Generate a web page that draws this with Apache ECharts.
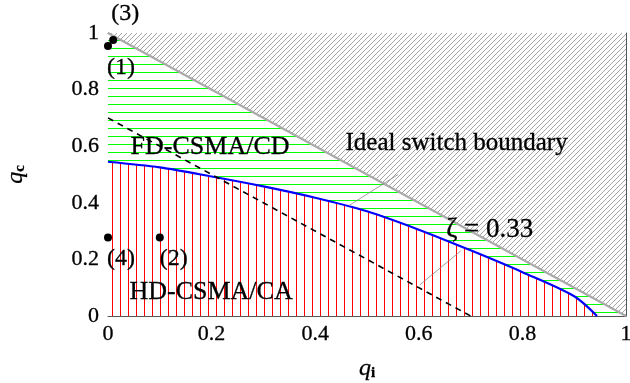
<!DOCTYPE html>
<html>
<head>
<meta charset="utf-8">
<script src="https://cdn.jsdelivr.net/npm/echarts@6/dist/echarts.min.js"></script>
<style>
  html, body { margin: 0; padding: 0; background: #fff; }
  #chart { width: 630px; height: 383px; }
</style>
</head>
<body>
<div id="chart"></div>
<script>
// values
const idealBoundary = [[0, 0.545], [0.1, 0.525], [0.2, 0.493], [0.3, 0.458], [0.4, 0.418],
  [0.5, 0.37], [0.6, 0.305], [0.7, 0.232], [0.8, 0.155], [0.9, 0.07], [0.944, 0]]
const diagonal = [[0, 1], [1, 0]]
const zetaLine = [[0, 0.7], [0.7, 0]]
const pointsData = [
  { name: '(1)', value: [0, 0.954], offset: [13, 22] },
  { name: '(3)', value: [0.01, 0.975], offset: [12, -26] },
  { name: '(4)', value: [0, 0.277], offset: [13, 21] },
  { name: '(2)', value: [0.1, 0.277], offset: [14, 21] }
]
const regionLabels = [
  { name: 'FD-CSMA/CD', value: [0.197, 0.595], size: 26 },
  { name: 'Ideal switch boundary', value: [0.673, 0.61], size: 25 },
  { name: 'HD-CSMA/CA', value: [0.199, 0.085], size: 26 },
  { name: 'ζ = 0.33', value: [0.737, 0.304], size: 27 }
]
const pinLines = [
  [[0.56, 0.5], [0.465, 0.39]],
  [[0.681, 0.23], [0.602, 0.11]]
]
const tickLabels = ['0', '0.2', '0.4', '0.6', '0.8', '1']

// hatch patterns
function makePattern(w, h, bg, draw) {
  const c = document.createElement('canvas')
  c.width = w
  c.height = h
  const ctx = c.getContext('2d')
  if (bg) {
    ctx.fillStyle = bg
    ctx.fillRect(0, 0, w, h)
  }
  draw(ctx)
  return { image: c, repeat: 'repeat' }
}
const grayHatch = makePattern(5, 5, '#fff', ctx => {
  ctx.strokeStyle = '#999'
  ctx.lineWidth = 0.9
  ctx.beginPath()
  ctx.moveTo(-1, 6); ctx.lineTo(6, -1)
  ctx.moveTo(-1, 1); ctx.lineTo(1, -1)
  ctx.moveTo(4, 6); ctx.lineTo(6, 4)
  ctx.stroke()
})
const greenHatch = makePattern(8, 8, '#fff', ctx => {
  ctx.fillStyle = '#00ff00'
  ctx.fillRect(0, 0, 8, 1)
})
const redHatch = makePattern(8, 8, '#fff', ctx => {
  ctx.fillStyle = '#ff0000'
  ctx.fillRect(0, 0, 1, 8)
})

const font = 'Liberation Serif'
// thin outline so the serif text reads as dark as the original
const ink = { color: '#000', textBorderColor: '#000', textBorderWidth: 0.3 }
const fmt = v => tickLabels[Math.round(v * 5)]
const nameRich = {
  q: Object.assign({ fontFamily: font, fontStyle: 'italic', fontSize: 24 }, ink),
  s: Object.assign({ fontFamily: font, fontWeight: 'bold', fontSize: 15, padding: [9, 0, 0, 0] }, ink)
}

const axisCommon = {
  type: 'value',
  min: 0,
  max: 1,
  interval: 0.2,
  axisLine: { show: true, onZero: false, lineStyle: { color: '#555', width: 1 } },
  axisTick: { inside: true, length: 5, lineStyle: { color: '#555' } },
  splitLine: { show: false }
}

const chart = echarts.init(document.getElementById('chart'))
chart.setOption({
  animation: false,
  grid: { left: 108, right: 4, top: 33, bottom: 67, containLabel: false, outerBoundsMode: 'none' },
  xAxis: [
    Object.assign({}, axisCommon, {
      position: 'bottom',
      axisLabel: Object.assign({ fontFamily: font, fontSize: 22, margin: 7, formatter: fmt }, ink),
      name: '{q|q}{s|i}',
      nameLocation: 'middle',
      nameGap: 41,
      nameTextStyle: { rich: nameRich }
    }),
    Object.assign({}, axisCommon, { position: 'top', axisLabel: { show: false } })
  ],
  yAxis: [
    Object.assign({}, axisCommon, {
      position: 'left',
      axisLabel: Object.assign({ fontFamily: font, fontSize: 22, margin: 9, formatter: fmt }, ink),
      name: '{q|q}{s|c}',
      nameLocation: 'middle',
      nameGap: 80,
      nameRotate: 90,
      nameTextStyle: { rich: nameRich }
    }),
    Object.assign({}, axisCommon, { position: 'right', axisLabel: { show: false } })
  ],
  series: [
    {
      // gray hatched region above the diagonal
      type: 'line',
      data: diagonal,
      symbol: 'none',
      z: 1,
      lineStyle: { color: '#aaa', width: 2.2 },
      areaStyle: { origin: 'end', color: grayHatch, opacity: 1 }
    },
    {
      // green FD region (red covers its lower part)
      type: 'line',
      data: diagonal,
      symbol: 'none',
      z: 1,
      lineStyle: { width: 0 },
      areaStyle: { origin: 'start', color: greenHatch, opacity: 1 }
    },
    {
      // red HD region under the ideal switch boundary
      type: 'line',
      data: idealBoundary,
      symbol: 'none',
      smooth: 0.3,
      z: 2,
      lineStyle: { color: '#0000ff', width: 2.2 },
      areaStyle: { origin: 'start', color: redHatch, opacity: 1 }
    },
    {
      type: 'line',
      data: zetaLine,
      symbol: 'none',
      z: 3,
      lineStyle: { color: '#000', width: 1.6, type: [6, 5] }
    },
    {
      // pins
      type: 'lines',
      coordinateSystem: 'cartesian2d',
      z: 3,
      lineStyle: { color: '#888', width: 0.8, opacity: 1 },
      data: pinLines.map(p => ({ coords: p }))
    },
    {
      type: 'scatter',
      symbolSize: 8,
      z: 4,
      itemStyle: { color: '#000', opacity: 1 },
      data: pointsData.map(d => ({
        name: d.name,
        value: d.value,
        label: Object.assign({
          show: true,
          formatter: '{b}',
          fontFamily: font,
          fontSize: 24,
          position: 'inside',
          offset: d.offset
        }, ink)
      }))
    },
    {
      type: 'scatter',
      symbolSize: 0,
      z: 5,
      silent: true,
      itemStyle: { opacity: 1 },
      data: regionLabels.map(d => ({
        name: d.name,
        value: d.value,
        label: Object.assign({
          show: true,
          formatter: '{b}',
          fontFamily: font,
          fontSize: d.size,
          position: 'inside'
        }, ink)
      }))
    }
  ]
})
</script>
</body>
</html>
